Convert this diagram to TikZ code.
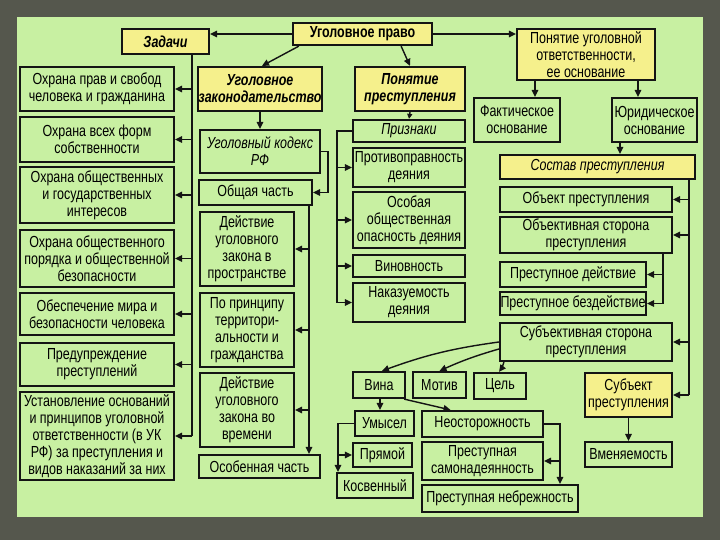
\documentclass[tikz,border=0pt]{standalone}
\usepackage{fontspec}
\setmainfont{Liberation Sans}[FakeStretch=0.78]
\usetikzlibrary{arrows.meta}
\definecolor{outer}{HTML}{55574D}
\definecolor{panel}{HTML}{C8F0A2}
\definecolor{boxg}{HTML}{C8F0A2}
\definecolor{boxy}{HTML}{F5F08C}
\definecolor{ink}{HTML}{141414}
\newcommand\fs{\fontsize{16}{17}\selectfont}
\newcommand\bx[7]{\node[#6, minimum width={(#4-#2)*1pt}, minimum height={(#5-#3)*1pt}] (#1) at ({(#2+#4)/2},{(#3+#5)/2}) {#7};}
\begin{document}
\begin{tikzpicture}[x=1pt,y=-1pt,
  box/.style={draw=ink, line width=2.2pt, fill=boxg, inner sep=0.5pt, align=center, font=\fs},
  ybox/.style={box, fill=boxy},
  bi/.style={font=\fs\bfseries\itshape},
  bb/.style={font=\fs\bfseries},
  it/.style={font=\fs\itshape},
  ln/.style={draw=ink, line width=1.4pt},
  arr/.style={ln, -{Triangle[length=7pt,width=6.5pt]}}]
\useasboundingbox (0,0) rectangle (720,540);
\fill[outer] (0,0) rectangle (720,540);
\fill[panel] (17,17) rectangle (703,517);
% top
\bx{up}{293}{23}{432}{45}{ybox,bb}{Уголовное право}
\bx{zad}{122}{29}{209}{54}{ybox,bi}{Задачи}
\bx{zak}{200}{67}{320}{111}{ybox,bi}{Уголовное\\законодательство}
\bx{pp}{355}{67}{465}{111}{ybox,bi}{Понятие\\преступления}
\bx{puo}{517}{29}{655}{80}{ybox}{Понятие уголовной\\ответственности,\\ее основание}
\bx{fakt}{474}{98}{560}{142}{box}{Фактическое\\основание}
\bx{yur}{612}{98}{697}{142}{box}{Юридическое\\основание}
% left column
\bx{t1}{20}{67}{174}{111}{box}{Охрана прав и свобод\\человека и гражданина}
\bx{t2}{20}{117}{174}{162}{box}{Охрана всех форм\\собственности}
\bx{t3}{20}{167}{174}{223}{box}{Охрана общественных\\и государственных\\интересов}
\bx{t4}{20}{230}{174}{287}{box}{Охрана общественного\\порядка и общественной\\безопасности}
\bx{t5}{20}{293}{174}{335}{box}{Обеспечение мира и\\безопасности человека}
\bx{t6}{20}{343}{174}{386}{box}{Предупреждение\\преступлений}
\bx{t7}{20}{392}{174}{480}{box}{Установление оснований\\и принципов уголовной\\ответственности (в УК\\РФ) за преступления и\\видов наказаний за них}
% middle column
\bx{uk}{200}{130}{320}{173}{box,it}{Уголовный кодекс\\РФ}
\bx{ob}{199}{180}{312}{205}{box}{Общая часть}
\bx{d1}{200}{212}{294}{286}{box}{Действие\\уголовного\\закона в\\пространстве}
\bx{d2}{200}{293}{294}{367}{box}{По принципу\\территори-\\альности и\\гражданства}
\bx{d3}{200}{373}{294}{447}{box}{Действие\\уголовного\\закона во\\времени}
\bx{os}{199}{455}{320}{478}{box}{Особенная часть}
% signs
\bx{pr}{353}{120}{465}{142}{box,it}{Признаки}
\bx{p1}{353}{148}{465}{187}{box}{Противоправность\\деяния}
\bx{p2}{353}{192}{465}{248}{box}{Особая\\общественная\\опасность деяния}
\bx{p3}{353}{255}{465}{277}{box}{Виновность}
\bx{p4}{353}{283}{465}{322}{box}{Наказуемость\\деяния}
% right column
\bx{sost}{500}{155}{695}{179}{ybox,it}{Состав преступления}
\bx{r1}{500}{187}{672}{212}{box}{Объект преступления}
\bx{r2}{500}{217}{672}{253}{box}{Объективная сторона\\преступления}
\bx{r3}{500}{262}{646}{287}{box}{Преступное действие}
\bx{r4}{500}{292}{646}{315}{box}{Преступное бездействие}
\bx{r5}{500}{323}{672}{361}{box}{Субъективная сторона\\преступления}
\bx{subj}{585}{373}{672}{417}{ybox}{Субъект\\преступления}
\bx{vm}{585}{442}{672}{467}{box}{Вменяемость}
% bottom
\bx{vina}{353}{372}{405}{398}{box}{Вина}
\bx{motiv}{413}{372}{466}{398}{box}{Мотив}
\bx{cel}{474}{373}{526}{399}{box}{Цель}
\bx{um}{355}{411}{414}{436}{box}{Умысел}
\bx{neo}{422}{411}{543}{437}{box}{Неосторожность}
\bx{pryam}{353}{443}{412}{467}{box}{Прямой}
\bx{kosv}{337}{473}{413}{498}{box}{Косвенный}
\bx{sam}{422}{442}{543}{480}{box}{Преступная\\самонадеянность}
\bx{neb}{422}{485}{578}{512}{box}{Преступная небрежность}
% helper x positions
\coordinate (x192) at (192,0);
\coordinate (x309) at (309,0);
\coordinate (x328) at (328,0);
\coordinate (x337) at (337,0);
\coordinate (x338) at (338,0);
\coordinate (x380) at (380,0);
\coordinate (x535) at (535,0);
\coordinate (x560) at (560,0);
\coordinate (x620) at (620,0);
\coordinate (x638) at (638,0);
\coordinate (x663) at (663,0);
\coordinate (x689) at (689,0);
% connectors top
\draw[arr] (up.west) -- (up.west -| zad.east);
\draw[arr] ([xshift=7pt]up.south west) -- ([xshift=2pt]zak.north);
\draw[arr] ([xshift=-32pt]up.south east) -- (pp.north);
\draw[arr] (up.east) -- (up.east -| puo.west);
\draw[arr] (puo.south -| x535) -- (fakt.north -| x535);
\draw[arr] (puo.south -| x638) -- (yur.north -| x638);
\draw[arr] (yur.south -| x620) -- (sost.north -| x620);
% left trunk
\draw[ln] (zad.south -| x192) -- (x192 |- t7.east);
\foreach \t in {t1,t2,t3,t4,t5,t6,t7}{\draw[arr] (x192 |- \t.east) -- (\t.east);}
% middle
\draw[arr] (zak.south) -- (uk.north);
\draw[arr] (uk.east) -| (x328 |- ob.east) -- (ob.east);
\draw[arr] (ob.south -| x309) -- (os.north -| x309);
\foreach \t in {d1,d2,d3}{\draw[arr] (x309 |- \t.east) -- (\t.east);}
% signs
\draw[ln, -{Triangle[length=5pt,width=5pt]}] (pp.south) -- (pr.north);
\draw[ln] (pr.west) -| (x337 |- p4.west);
\foreach \t in {p1,p2,p3,p4}{\draw[arr] (x337 |- \t.west) -- (\t.west);}
% right
\draw[ln] (sost.south -| x689) -- (x689 |- subj.east);
\foreach \t in {r1,r2,r5,subj}{\draw[arr] (x689 |- \t.east) -- (\t.east);}
\draw[ln] (r2.south -| x663) -- (x663 |- r4.east);
\foreach \t in {r3,r4}{\draw[arr] (x663 |- \t.east) -- (\t.east);}
\draw[arr] (subj.south) -- (vm.north);
% subjective side
\draw[arr] (r5.west) to[bend right=6] ([xshift=3pt]vina.north);
\draw[arr] ([yshift=-7pt]r5.west) to[bend right=4] (motiv.north);
\draw[arr] ([xshift=5pt]r5.south west) to[bend left=10] ([xshift=-1pt]cel.north);
% guilt
\draw[arr] (vina.south -| x380) -- (um.north -| x380);
\draw[arr] ([xshift=-2pt]vina.south east) -- ([xshift=-32pt]neo.north);
\draw[arr] (um.west) -| (kosv.north -| x338);
\draw[arr] (x338 |- pryam.west) -- (pryam.west);
\draw[arr] (neo.east) -| (neb.north -| x560);
\draw[arr] (x560 |- sam.east) -- (sam.east);
\end{tikzpicture}
\end{document}
